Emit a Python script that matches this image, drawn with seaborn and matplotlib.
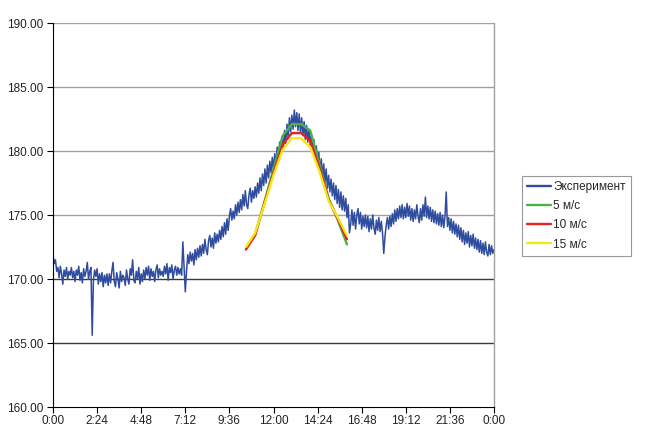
import numpy as np
import pandas as pd
import matplotlib
matplotlib.use("Agg")
import matplotlib.pyplot as plt
import seaborn as sns

# ---- data ----
# experiment: one value every 4 minutes, 0:00 .. 24:00 (15 per hour)
exp_values = [
    171.9, 171.2, 171.5, 170.6, 170.9, 170.1, 171.0, 170.4, 169.6, 170.7, 170.2, 170.9, 170.0, 170.6, 170.3,  # 0h
    170.9, 170.1, 170.6, 169.8, 170.7, 170.3, 171.0, 169.9, 170.5, 169.7, 170.8, 170.2, 170.6, 171.3, 170.0,  # 1h
    170.6, 170.9, 165.6, 169.9, 170.7, 170.2, 170.8, 169.6, 170.4, 169.8, 170.5, 169.4, 170.3, 169.7, 170.4,  # 2h
    169.5, 170.4, 169.7, 170.6, 171.3, 169.8, 169.4, 170.5, 170.0, 169.3, 170.6, 169.8, 170.3, 170.1, 169.5,  # 3h
    170.7, 170.0, 169.6, 170.8, 170.3, 171.5, 169.9, 169.7, 170.6, 170.0, 170.9, 169.6, 170.4, 169.8, 170.7,  # 4h
    170.0, 170.9, 170.3, 171.0, 169.9, 170.8, 170.2, 170.6, 169.8, 170.7, 171.1, 170.1, 170.8, 170.3, 170.6,  # 5h
    170.2, 171.0, 170.4, 171.2, 169.9, 170.9, 170.5, 171.1, 170.0, 170.7, 171.0, 170.3, 170.9, 170.4, 170.8,  # 6h
    170.3, 172.9, 171.0, 169.0, 170.6, 171.9, 171.2, 172.1, 171.4, 172.0, 171.1, 172.3, 171.5, 172.4, 171.7,  # 7h
    172.6, 171.8, 172.7, 172.0, 173.1, 172.3, 171.9, 173.0, 173.4, 172.5, 173.2, 172.4, 173.6, 172.8, 173.5,  # 8h
    172.9, 173.8, 173.1, 174.1, 173.3, 174.4, 173.5, 174.7, 173.8, 174.9, 175.5, 174.6, 175.3, 174.7, 175.8,  # 9h
    175.0, 176.0, 175.2, 176.2, 175.4, 176.6, 175.7, 176.9, 175.8, 175.5, 176.6, 177.1, 176.0, 176.9, 176.3,  # 10h
    177.2, 176.4, 177.5, 176.7, 177.9, 176.9, 178.2, 177.3, 178.6, 177.5, 178.9, 177.9, 179.2, 178.3, 179.5,  # 11h
    178.5, 179.8, 178.9, 180.3, 179.4, 180.7, 179.7, 181.1, 180.2, 181.6, 180.6, 182.1, 181.0, 182.6, 181.5,  # 12h
    182.8, 181.7, 183.2, 181.9, 183.0, 181.6, 182.9, 181.4, 182.6, 181.2, 182.3, 180.9, 182.0, 180.7, 181.7,  # 13h
    180.4, 181.3, 179.9, 180.9, 179.4, 180.4, 178.8, 179.9, 178.3, 179.4, 177.9, 179.0, 177.5, 178.6, 177.1,  # 14h
    178.1, 176.8, 177.8, 176.5, 177.5, 176.2, 177.3, 175.9, 177.0, 175.6, 176.8, 175.4, 176.5, 175.3, 176.3,  # 15h
    174.8, 175.8, 173.6, 174.3, 175.4, 174.2, 175.2, 173.9, 175.0, 175.5, 174.3, 175.2, 173.9, 174.9, 174.1,  # 16h
    175.0, 174.0, 174.9, 173.7, 174.7, 173.9, 175.0, 174.0, 173.5, 174.6, 173.8, 174.8, 173.7, 174.5, 173.6,  # 17h
    172.0, 173.3, 174.2, 174.8, 173.9, 174.9, 174.1, 175.1, 174.3, 175.4, 174.5, 175.5, 174.7, 175.7, 174.8,  # 18h
    175.8, 174.7, 175.6, 174.8, 175.9, 174.9, 175.7, 174.6, 175.5, 174.5, 175.4, 174.7, 175.8, 174.9, 174.4,  # 19h
    175.5, 174.6, 175.8, 174.9, 176.4, 174.8, 175.7, 174.7, 175.6, 174.5, 175.4, 174.4, 175.3, 174.3, 175.1,  # 20h
    174.2, 175.2, 174.1, 175.0, 174.0, 174.9, 176.8, 174.1, 174.8, 173.8, 174.7, 173.6, 174.5, 173.5, 174.3,  # 21h
    173.3, 174.2, 173.1, 174.0, 172.9, 173.8, 172.7, 173.6, 172.8, 173.7, 172.5, 173.4, 172.6, 173.5, 172.4,  # 22h
    173.2, 172.3, 173.1, 172.1, 173.0, 172.0, 172.8, 171.9, 172.9, 172.1, 171.8, 172.7, 171.9, 172.6, 172.0,  # 23h
    172.3,
]
exp_hours = np.arange(len(exp_values)) / 15.0

model_hours = [10.5, 11.0, 11.5, 12.0, 12.5, 13.0, 13.5, 14.0, 14.5, 15.0, 15.5, 16.0]
model_5 = [172.4, 173.5, 176.0, 178.6, 181.2, 182.1, 182.1, 181.6, 179.0, 176.3, 174.6, 172.7]
model_10 = [172.3, 173.4, 175.9, 178.3, 180.5, 181.4, 181.4, 180.8, 178.7, 176.2, 174.7, 173.1]
model_15 = [172.5, 173.6, 175.8, 178.1, 180.1, 181.0, 181.0, 180.3, 178.4, 176.1, 174.8, 173.4]

series_names = ["Эксперимент", "5 м/с", "10 м/с", "15 м/с"]
x_tick_hours = [0, 2.4, 4.8, 7.2, 9.6, 12.0, 14.4, 16.8, 19.2, 21.6, 24.0]
x_tick_labels = ["0:00", "2:24", "4:48", "7:12", "9:36", "12:00", "14:24",
                 "16:48", "19:12", "21:36", "0:00"]
y_ticks = [160, 165, 170, 175, 180, 185, 190]

# ---- style ----
sns.set_style("white")
plt.rcParams["font.family"] = ["Liberation Sans", "DejaVu Sans"]

colors = {"Эксперимент": "#2F4C9F", "5 м/с": "#49B347",
          "10 м/с": "#E8221E", "15 м/с": "#F4E81A"}

df_exp = pd.DataFrame({"t": exp_hours, "v": exp_values, "s": series_names[0]})
df_mod = pd.concat([
    pd.DataFrame({"t": model_hours, "v": vals, "s": name})
    for name, vals in zip(series_names[1:], [model_5, model_10, model_15])
])

fig = plt.figure(figsize=(6.58, 4.26), dpi=100)
ax = fig.add_axes([53 / 658, 19 / 426, 441 / 658, 384 / 426])

sns.lineplot(data=df_exp, x="t", y="v", color=colors["Эксперимент"], lw=1.1,
             ax=ax, label=series_names[0])
for name in series_names[1:]:
    sub = df_mod[df_mod["s"] == name]
    sns.lineplot(data=sub, x="t", y="v", color=colors[name], lw=1.7, ax=ax, label=name)

ax.set_xlim(0, 24)
ax.set_ylim(160, 190)
ax.set_xticks(x_tick_hours)
ax.set_xticklabels(x_tick_labels)
ax.set_yticks(y_ticks)
ax.set_yticklabels([f"{v:.2f}" for v in y_ticks])
ax.set_xlabel("")
ax.set_ylabel("")

# gridlines
for yv in y_ticks[1:]:
    c = "#3a3a3a" if yv in (165, 170) else "#a0a0a0"
    ax.axhline(yv, color=c, lw=1.0, zorder=0)

ax.spines["top"].set_visible(False)
ax.spines["right"].set_color("#a0a0a0")
ax.spines["right"].set_linewidth(1.0)
ax.spines["left"].set_color("black")
ax.spines["bottom"].set_color("black")
ax.spines["left"].set_linewidth(0.8)
ax.spines["bottom"].set_linewidth(0.8)

ax.tick_params(axis="both", which="both", direction="out", length=4, width=0.8,
               color="black", labelsize=8.5, labelcolor="#222222", pad=3,
               bottom=True, left=True)
ax.tick_params(axis="x", pad=1.5)

leg = ax.legend(loc="upper left", bbox_to_anchor=(522 / 658, 1 - 176 / 426),
                bbox_transform=fig.transFigure, fontsize=8.5, frameon=True,
                fancybox=False, edgecolor="#808080", handlelength=2.0,
                handletextpad=0.2, labelspacing=0.6, borderpad=0.45,
                borderaxespad=0)
leg.get_frame().set_linewidth(0.8)
for line in leg.get_lines():
    line.set_linewidth(1.7)

fig.savefig("out.png", dpi=100)
